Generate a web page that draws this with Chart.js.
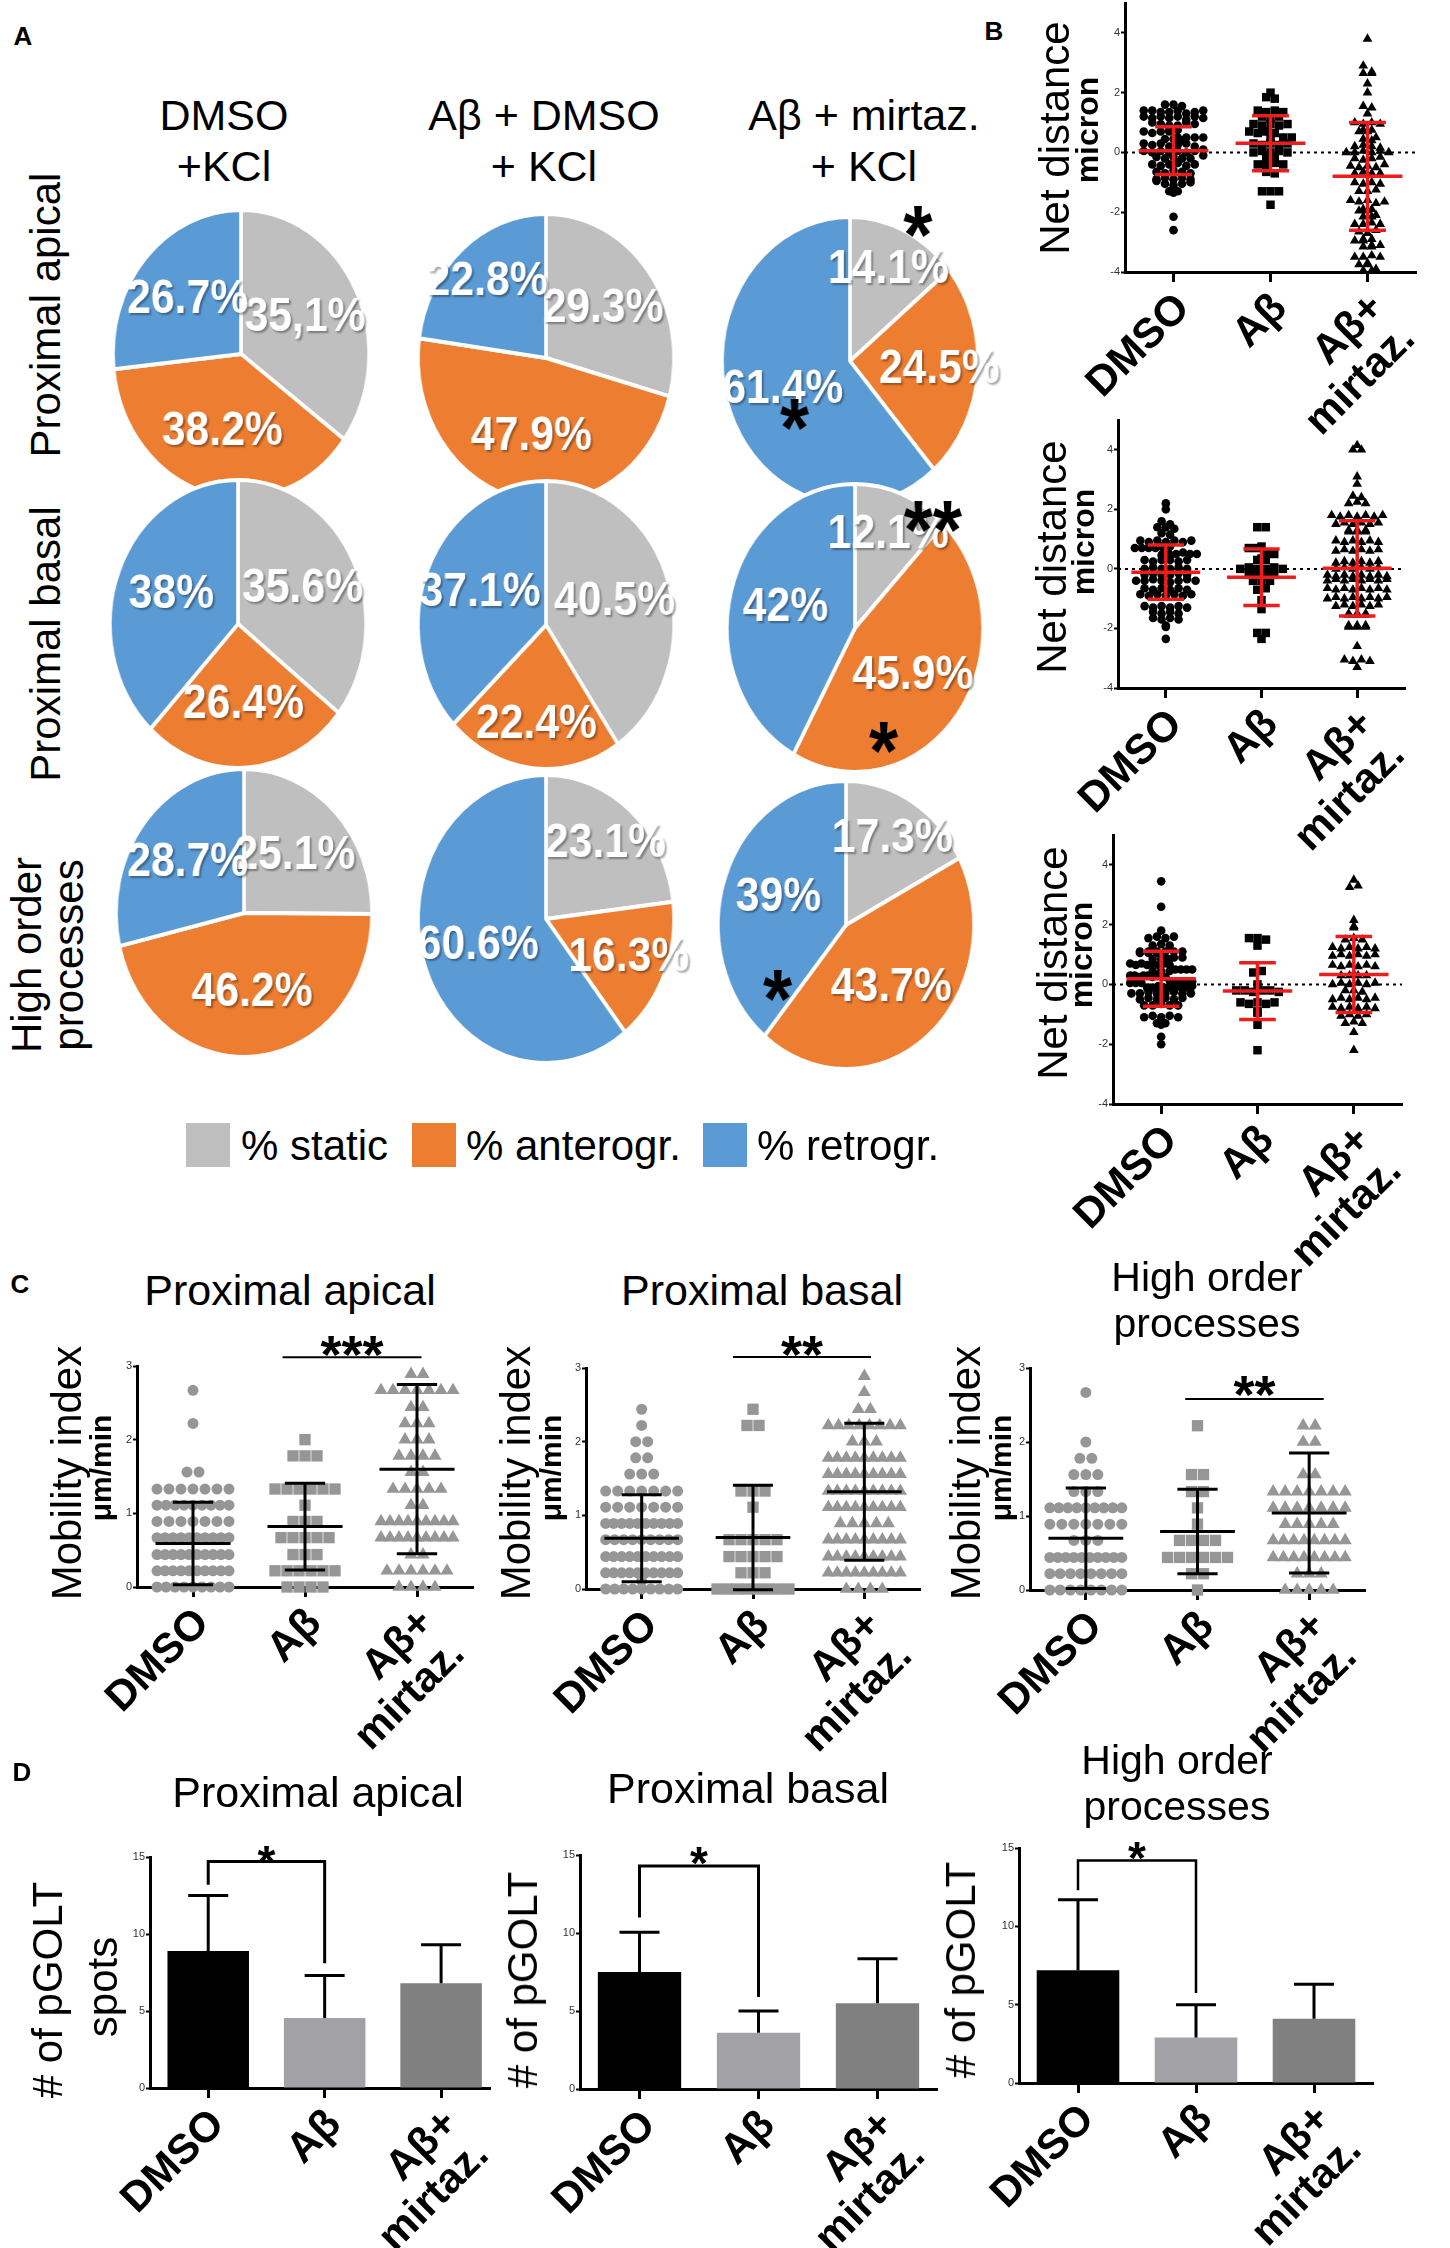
<!DOCTYPE html>
<html>
<head>
<meta charset="utf-8">
<title>pGOLT transport</title>
<script src="https://cdn.jsdelivr.net/npm/chart.js@4.4.1/dist/chart.umd.min.js"></script>
<style>
  html, body { margin: 0; background: #fff; }
  #fig { position: relative; width: 1450px; height: 2248px; overflow: hidden; font-family: "Liberation Sans", Arial, sans-serif; color: #000; }
  #fig canvas { position: absolute; }
  .t { position: absolute; white-space: pre; line-height: 1; text-align: center; transform: translate(-50%, -50%); }
  .t.v { transform: translate(-50%, -50%) rotate(-90deg); }
  .key { position: absolute; width: 44px; height: 44px; }
</style>
</head>
<body>
<div id="fig"></div>
<script>
// ---------- data ----------
const groups = ['DMSO', 'Aβ', ['Aβ+', 'mirtaz.']];

// A: share of spots per movement class, order [static, anterograde, retrograde]
const moveClasses = ['% static', '% anterogr.', '% retrogr.'];
const moveColors = ['#bfbfbf', '#ed7d31', '#5b9bd5'];
const pieColumns = [['DMSO', '+KCl'], ['Aβ + DMSO', '+ KCl'], ['Aβ + mirtaz.', '+ KCl']];
const pieRows = ['Proximal apical', 'Proximal basal', 'High order\nprocesses'];
const pieApical = [[35.1, 38.2, 26.7], [29.3, 47.9, 22.8], [14.1, 24.5, 61.4]];
const pieBasal = [[35.6, 26.4, 38], [40.5, 22.4, 37.1], [12.1, 45.9, 42]];
const pieHigh = [[25.1, 46.2, 28.7], [23.1, 16.3, 60.6], [17.3, 43.7, 39]];

// B: net distance (micron)
const netTicks = [-4, -2, 0, 2, 4];
const netApicalDmso = [1.6, 1.6, 1.55, 1.4, 1.4, 1.35, 1.35, 1.4, 1.3, 1.35, 1.4,
  1.2, 1.15, 1.2, 1.15, 1.2, 1.1, 1.2, 1.15, 1.0, 0.95, 0.9, 0.9, 1.0, 0.95,
  0.75, 0.7, 0.65, 0.7, 0.75, 0.7, 0.5, 0.45, 0.5, 0.45, 0.5, 0.4, 0.5,
  0.3, 0.25, 0.3, 0.2, 0.25, 0.3, 0.2, 0.05, 0.0, 0.05, 0.0, 0.05, 0.1, 0.0, 0.05,
  -0.15, -0.2, -0.15, -0.2, -0.1, -0.2, -0.4, -0.45, -0.4, -0.35, -0.45, -0.4,
  -0.65, -0.7, -0.6, -0.65, -0.7, -0.9, -0.85, -0.9, -0.95, -0.85, -0.9,
  -1.05, -1.1, -1.05, -1.0, -1.3, -1.3, -1.35, -2.15, -2.6];
const netApicalAb = [2.0, 1.85, 1.8, 1.4, 1.35, 1.4, 1.35, 1.2, 1.15, 1.2,
  0.95, 0.9, 0.95, 0.9, 0.95, 0.7, 0.65, 0.7, 0.65, 0.5, 0.45, 0.5,
  0.3, 0.25, 0.3, 0.25, 0.3, 0.0, 0.05, 0.0, 0.05, 0.0, -0.2, -0.15,
  -0.4, -0.4, -0.35, -0.4, -0.65, -0.7, -1.3, -1.3, -1.3, -1.75];
const netApicalMirt = [3.8, 2.9, 2.65, 2.7, 2.65, 2.3, 2.0, 1.55, 1.5, 1.3,
  1.0, 0.95, 1.0, 0.95, 0.75, 0.7, 0.7, 0.75, 0.45, 0.5, 0.4, 0.2, 0.25, 0.2, 0.15,
  0.0, 0.0, 0.05, 0.0, 0.05, 0.0, -0.2, -0.25, -0.2, -0.15, -0.45, -0.5, -0.45, -0.5, -0.4,
  -0.7, -0.65, -0.7, -0.7, -1.0, -1.05, -1.0, -1.05, -1.3, -1.3, -1.25,
  -1.6, -1.65, -1.6, -1.7, -1.65, -1.9, -1.95, -1.9, -1.95, -2.15, -2.1, -2.15,
  -2.4, -2.4, -2.35, -2.4, -2.65, -2.7, -2.6, -2.95, -2.9, -2.95, -2.9,
  -3.15, -3.1, -3.15, -3.1, -3.5, -3.5, -3.45, -3.5, -3.75, -3.7, -3.75, -3.95, -3.95, -3.9];
const netApicalMean = [0.06, 0.31, -0.8];
const netApicalSd = [0.8, 0.92, 1.8];

const netBasalDmso = [2.2, 2.0, 1.6, 1.5, 1.4, 1.4, 1.35, 1.2, 1.15,
  0.95, 0.9, 0.95, 0.9, 0.95, 0.9, 0.95, 0.7, 0.75, 0.7, 0.7, 0.75, 0.7,
  0.5, 0.5, 0.45, 0.5, 0.55, 0.5, 0.45, 0.5, 0.3, 0.25, 0.3, 0.3, 0.25, 0.3,
  0.0, 0.05, 0.0, 0.0, 0.05, 0.0, -0.2, -0.15, -0.2, -0.2, -0.15, -0.2,
  -0.4, -0.4, -0.35, -0.4, -0.45, -0.4, -0.35, -0.4, -0.65, -0.7, -0.65, -0.7, -0.65, -0.7,
  -0.85, -0.9, -0.85, -0.9, -0.85, -0.9, -0.85, -1.25, -1.3, -1.25, -1.3, -1.25, -1.3,
  -1.45, -1.5, -1.45, -1.5, -1.65, -1.7, -1.65, -1.7, -1.95, -1.9, -2.35];
const netBasalAb = [1.4, 1.4, 0.7, 0.75, 0.7, 0.5, 0.5, 0.3, 0.35, 0.3,
  0.0, 0.05, 0.0, 0.0, 0.05, 0.0, -0.2, -0.2, -0.25, -0.2, -0.4, -0.4, -0.4,
  -0.7, -0.65, -1.05, -1.35, -2.15, -2.15, -2.35];
const netBasalMirt = [4.15, 4.0, 4.0, 3.1, 2.85, 2.45, 2.4, 2.2, 2.25, 2.2,
  1.8, 1.75, 1.8, 1.75, 1.8, 1.75, 1.8, 1.5, 1.55, 1.5, 1.55, 1.5, 1.55,
  1.25, 1.3, 1.25, 1.3, 1.25, 1.3, 0.95, 0.9, 0.95, 0.9, 0.95, 0.9,
  0.6, 0.65, 0.6, 0.65, 0.6, 0.65, 0.2, 0.25, 0.2, 0.25, 0.2, 0.25,
  0.0, 0.05, 0.0, 0.05, 0.0, 0.05, -0.2, -0.25, -0.2, -0.25, -0.2, -0.25, -0.2, -0.25,
  -0.4, -0.35, -0.4, -0.35, -0.4, -0.35, -0.4, -0.35, -0.65, -0.7, -0.65, -0.7, -0.65, -0.7, -0.65, -0.7,
  -1.0, -0.95, -1.0, -0.95, -1.0, -0.95, -1.0, -0.95, -1.25, -1.2, -1.25, -1.2, -1.25, -1.2,
  -1.5, -1.55, -1.5, -1.55, -1.5, -1.55, -1.9, -1.95, -1.9, -1.95, -1.9, -1.95,
  -2.6, -3.05, -3.1, -3.05, -3.1, -3.3];
const netBasalMean = [-0.11, -0.28, 0.02];
const netBasalSd = [0.91, 0.95, 1.6];

const netHighDmso = [3.45, 2.6, 1.8, 1.55, 1.6, 1.55, 1.6, 1.3, 1.35, 1.3,
  1.1, 1.1, 1.05, 1.1, 1.1, 1.05, 1.1, 1.1, 1.05, 0.9, 0.85, 0.9, 0.85, 0.9, 0.85,
  0.7, 0.65, 0.7, 0.65, 0.7, 0.65, 0.7, 0.65, 0.5, 0.45, 0.5, 0.45, 0.5, 0.45, 0.5,
  0.3, 0.3, 0.25, 0.3, 0.3, 0.25, 0.3, 0.3, 0.25, 0.1, 0.1, 0.05, 0.1, 0.1, 0.05, 0.1, 0.1, 0.05,
  -0.1, -0.1, -0.05, -0.1, -0.1, -0.05, -0.1, -0.1, -0.05, -0.3, -0.3, -0.25, -0.3, -0.3, -0.25, -0.3, -0.3,
  -0.5, -0.45, -0.5, -0.45, -0.5, -0.45, -0.7, -0.7, -0.65, -0.7, -0.7,
  -1.1, -1.05, -1.1, -1.05, -1.1, -1.3, -1.35, -1.3, -1.75, -2.0];
const netHighAb = [1.55, 1.55, 1.5, 1.3, 0.4, 0.45, 0.0, -0.2, -0.2, -0.25, -0.2, -0.2, -0.25,
  -0.6, -0.65, -0.6, -0.65, -0.6, -0.9, -0.95, -1.35, -2.2];
const netHighMirt = [3.5, 3.25, 3.3, 2.15, 1.9, 1.95, 1.5, 1.55, 1.5,
  1.25, 1.2, 1.25, 1.2, 1.25, 1.2, 0.95, 1.0, 0.95, 1.0, 0.95, 1.0,
  0.65, 0.6, 0.65, 0.6, 0.65, 0.6, 0.3, 0.3, 0.35, 0.3, 0.3, 0.0, 0.05, 0.0, 0.05, 0.0, 0.05,
  -0.2, -0.2, -0.25, -0.5, -0.45, -0.5, -0.45, -0.5, -0.45, -0.75, -0.8, -0.75, -0.8, -0.75, -0.8,
  -1.05, -1.0, -1.05, -1.0, -1.3, -1.25, -1.3, -1.6, -2.2];
const netHighMean = [0.19, -0.22, 0.33];
const netHighSd = [0.92, 0.95, 1.27];

// C: mobility index (µm/min)
const mobTicks = [0, 1, 2, 3];
const mobApicalDmso = [2.67, 2.22, 1.56, 1.56,
  1.33, 1.33, 1.33, 1.33, 1.33, 1.33, 1.33,
  1.11, 1.11, 1.11, 1.11, 1.11, 1.11, 1.11, 1.11, 1.11,
  0.89, 0.89, 0.89, 0.89, 0.89, 0.89, 0.89,
  0.67, 0.67, 0.67, 0.67, 0.67, 0.67, 0.67, 0.67, 0.67, 0.67,
  0.44, 0.44, 0.44, 0.44, 0.44, 0.44, 0.44, 0.44, 0.44, 0.44,
  0.22, 0.22, 0.22, 0.22, 0.22, 0.22, 0.22, 0.22, 0.22, 0.22,
  0, 0, 0, 0, 0, 0, 0, 0, 0];
const mobApicalAb = [2.0, 1.78, 1.78, 1.78,
  1.33, 1.33, 1.33, 1.33, 1.33, 1.33, 1.11, 0.89, 0.89, 0.89,
  0.67, 0.67, 0.67, 0.67, 0.67, 0.44, 0.44, 0.44,
  0.22, 0.22, 0.22, 0.22, 0.22, 0.22, 0, 0, 0, 0];
const mobApicalMirt = [2.89, 2.89, 2.67, 2.67, 2.67, 2.67, 2.67, 2.67, 2.67,
  2.44, 2.44, 2.22, 2.22, 2.22, 2.0, 2.0, 2.0, 1.78, 1.78, 1.78, 1.78, 1.56, 1.56,
  1.33, 1.33, 1.33, 1.33, 1.33, 1.11, 1.11,
  0.89, 0.89, 0.89, 0.89, 0.89, 0.89, 0.89, 0.89, 0.89,
  0.67, 0.67, 0.67, 0.67, 0.67, 0.67, 0.67, 0.67, 0.67, 0.44, 0.44,
  0.22, 0.22, 0.22, 0.22, 0.22, 0.22, 0, 0, 0, 0];
const mobApicalMean = [0.59, 0.82, 1.6];
const mobApicalSd = [0.56, 0.59, 1.15];

const mobBasalDmso = [2.44, 2.22, 2.0, 2.0, 1.78, 1.78, 1.56, 1.56, 1.56,
  1.33, 1.33, 1.33, 1.33, 1.33, 1.33, 1.33, 1.11, 1.11, 1.11, 1.11, 1.11, 1.11, 1.11,
  0.89, 0.89, 0.89, 0.89, 0.89, 0.89, 0.89, 0.89, 0.89, 0.89,
  0.67, 0.67, 0.67, 0.67, 0.67, 0.67, 0.67, 0.67, 0.67,
  0.44, 0.44, 0.44, 0.44, 0.44, 0.44, 0.44, 0.44, 0.44, 0.44,
  0.22, 0.22, 0.22, 0.22, 0.22, 0.22, 0.22, 0.22, 0.22, 0.22, 0.11,
  0, 0, 0, 0, 0, 0, 0, 0, 0];
const mobBasalAb = [2.44, 2.22, 2.22, 1.33, 1.33, 1.33, 1.11,
  0.67, 0.67, 0.67, 0.67, 0.67, 0.44, 0.44, 0.44, 0.44, 0.44, 0.22, 0.22, 0.22,
  0, 0, 0, 0, 0, 0, 0, 0];
const mobBasalMirt = [2.89, 2.67, 2.44, 2.44, 2.22, 2.22, 2.22, 2.22, 2.22, 2.22, 2.22, 2.22,
  2.0, 2.0, 2.0, 1.78, 1.78, 1.78, 1.78, 1.78, 1.78, 1.78, 1.78, 1.78,
  1.56, 1.56, 1.56, 1.56, 1.56, 1.56, 1.56, 1.56, 1.56,
  1.33, 1.33, 1.33, 1.33, 1.33, 1.33, 1.33, 1.33, 1.33,
  1.11, 1.11, 1.11, 1.11, 1.11, 1.11, 1.11, 1.11, 1.11, 0.89, 0.89, 0.89, 0.89, 0.89,
  0.67, 0.67, 0.67, 0.67, 0.67, 0.67, 0.67, 0.67, 0.67,
  0.44, 0.44, 0.44, 0.44, 0.44, 0.44, 0.44, 0.44, 0.44,
  0.22, 0.22, 0.22, 0.22, 0.22, 0.22, 0.22, 0.22, 0.22, 0, 0, 0, 0];
const mobBasalMean = [0.69, 0.7, 1.32];
const mobBasalSd = [0.59, 0.71, 0.93];

const mobHighDmso = [2.67, 2.0, 1.78, 1.78, 1.56, 1.56, 1.56, 1.33, 1.33, 1.33,
  1.11, 1.11, 1.11, 1.11, 1.11, 1.11, 1.11, 1.11, 1.11,
  0.89, 0.89, 0.89, 0.89, 0.89, 0.89, 0.89, 0.67, 0.67, 0.67,
  0.44, 0.44, 0.44, 0.44, 0.44, 0.44, 0.44, 0.44, 0.44, 0.44,
  0.22, 0.22, 0.22, 0.22, 0.22, 0.22, 0.22, 0.22, 0, 0, 0, 0, 0, 0, 0, 0];
const mobHighAb = [2.22, 1.56, 1.56, 1.33, 1.33, 1.11, 0.89, 0.67, 0.67, 0.67, 0.67,
  0.44, 0.44, 0.44, 0.44, 0.44, 0.44, 0.22, 0.22, 0];
const mobHighMirt = [2.22, 2.22, 2.0, 2.0, 1.56, 1.56,
  1.33, 1.33, 1.33, 1.33, 1.33, 1.33, 1.33, 1.11, 1.11, 1.11, 1.11, 1.11, 1.11, 1.11,
  0.89, 0.89, 0.89, 0.89, 0.89, 0.67, 0.67, 0.67, 0.67, 0.67, 0.67, 0.67, 0.67,
  0.44, 0.44, 0.44, 0.44, 0.44, 0.44, 0.44, 0.44, 0.22, 0.22, 0.22, 0, 0, 0, 0, 0];
const mobHighMean = [0.7, 0.79, 1.04];
const mobHighSd = [0.68, 0.57, 0.81];

// D: number of pGOLT spots, mean and SD
const spotTicks = [0, 5, 10, 15];
const spotsApical = [8.9, 4.55, 6.8];
const spotsApicalSd = [3.6, 2.75, 2.5];
const spotsBasal = [7.5, 3.6, 5.5];
const spotsBasalSd = [2.55, 1.4, 2.85];
const spotsHigh = [7.2, 2.9, 4.1];
const spotsHighSd = [4.5, 2.1, 2.2];
const barColors = ['#000000', '#a2a2a6', '#808080'];

// ---------- helpers ----------
const FONT = '"Liberation Sans", Arial, sans-serif';
Chart.defaults.font.family = FONT;
Chart.defaults.color = '#000';
const fig = document.getElementById('fig');

function txt(str, x, y, size, opt = {}) {
  const d = document.createElement('div');
  d.className = 't' + (opt.rot ? ' v' : '');
  d.style.left = x + 'px';
  d.style.top = y + 'px';
  d.style.fontSize = size + 'px';
  if (opt.bold) d.style.fontWeight = 'bold';
  d.textContent = str;
  fig.appendChild(d);
}

// beeswarm: points sharing a row are spread sideways around the group position
function swarm(values, idx, rowStep, gapPx, maxPx, pxPerUnit) {
  const rows = new Map();
  values.forEach(v => {
    const k = Math.round(v / rowStep);
    if (!rows.has(k)) rows.set(k, []);
    rows.get(k).push(v);
  });
  const pts = [];
  rows.forEach(list => {
    const n = list.length;
    const gap = n > 1 ? Math.min(gapPx, maxPx / (n - 1)) : 0;
    list.forEach((v, j) => pts.push({x: idx + (j - (n - 1) / 2) * gap / pxPerUnit, y: v}));
  });
  return pts;
}

// ---------- plugins ----------
const pieText = {
  id: 'pieText',
  afterDatasetsDraw(chart, args, o) {
    const ctx = chart.ctx;
    const arcs = chart.getDatasetMeta(0).data;
    const vals = chart.data.datasets[0].data;
    ctx.save();
    ctx.textAlign = 'center';
    ctx.textBaseline = 'middle';
    ctx.font = 'bold 48px ' + FONT;
    arcs.forEach((arc, i) => {
      const mid = (arc.startAngle + arc.endAngle) / 2;
      const f = vals[i] < 25 ? 0.7 : 0.56;
      const x = arc.x + Math.cos(mid) * arc.outerRadius * f;
      const y = arc.y + Math.sin(mid) * arc.outerRadius * f;
      ctx.shadowColor = 'rgba(0,0,0,0.35)';
      ctx.shadowBlur = 2;
      ctx.shadowOffsetX = 2;
      ctx.shadowOffsetY = 2;
      ctx.fillStyle = '#fff';
      ctx.fillText(o.labels[i], x, y);
    });
    ctx.shadowColor = 'transparent';
    ctx.fillStyle = '#000';
    ctx.textBaseline = 'alphabetic';
    const S = 84;
    ctx.font = 'bold ' + S + 'px ' + FONT;
    (o.marks || []).forEach(m => {
      const a = (m.a - 90) * Math.PI / 180;
      const r = arcs[0].outerRadius * m.r;
      ctx.fillText(m.t, arcs[0].x + Math.cos(a) * r, arcs[0].y + Math.sin(a) * r + 0.56 * S);
    });
    ctx.restore();
  }
};

const zeroLine = {
  id: 'zeroLine',
  beforeDatasetsDraw(chart, args, o) {
    if (!o.on) return;
    const {ctx, chartArea} = chart;
    const y = chart.scales.y.getPixelForValue(0);
    ctx.save();
    ctx.strokeStyle = '#000';
    ctx.lineWidth = 2;
    ctx.setLineDash([3, 4]);
    ctx.beginPath();
    ctx.moveTo(chartArea.left, y);
    ctx.lineTo(chartArea.right, y);
    ctx.stroke();
    ctx.restore();
  }
};

const meanSd = {
  id: 'meanSd',
  afterDatasetsDraw(chart, args, o) {
    if (!o.mean) return;
    const {ctx} = chart;
    const X = v => chart.scales.x.getPixelForValue(v);
    const Y = v => chart.scales.y.getPixelForValue(v);
    ctx.save();
    ctx.strokeStyle = o.color;
    ctx.lineWidth = o.width;
    const seg = (x0, y0, x1, y1) => {
      ctx.beginPath();
      ctx.moveTo(X(x0), Y(y0));
      ctx.lineTo(X(x1), Y(y1));
      ctx.stroke();
    };
    o.mean.forEach((m, i) => {
      const s = o.sd[i];
      seg(i, m - s, i, m + s);
      seg(i - o.half, m, i + o.half, m);
      seg(i - o.cap, m + s, i + o.cap, m + s);
      seg(i - o.cap, m - s, i + o.cap, m - s);
    });
    ctx.restore();
  }
};

const errBars = {
  id: 'errBars',
  afterDatasetsDraw(chart, args, o) {
    if (!o.sd) return;
    const {ctx} = chart;
    const X = v => chart.scales.x.getPixelForValue(v);
    const Y = v => chart.scales.y.getPixelForValue(v);
    ctx.save();
    ctx.strokeStyle = '#000';
    ctx.lineWidth = 3;
    o.mean.forEach((m, i) => {
      const x = X(i), top = Y(m + o.sd[i]);
      ctx.beginPath();
      ctx.moveTo(x, Y(m));
      ctx.lineTo(x, top);
      ctx.moveTo(x - 20, top);
      ctx.lineTo(x + 20, top);
      ctx.stroke();
    });
    ctx.restore();
  }
};

const sigMarks = {
  id: 'sigMarks',
  afterDraw(chart, args, o) {
    if (!o.text) return;
    const {ctx} = chart;
    const X = v => chart.scales.x.getPixelForValue(v);
    const Y = v => chart.scales.y.getPixelForValue(v);
    ctx.save();
    ctx.strokeStyle = '#000';
    ctx.lineWidth = o.width;
    ctx.beginPath();
    if (o.legs) {
      ctx.moveTo(X(o.x0), Y(o.legs[0]));
      ctx.lineTo(X(o.x0), Y(o.y));
      ctx.lineTo(X(o.x1), Y(o.y));
      ctx.lineTo(X(o.x1), Y(o.legs[1]));
    } else {
      ctx.moveTo(X(o.x0), Y(o.y));
      ctx.lineTo(X(o.x1), Y(o.y));
    }
    ctx.stroke();
    ctx.fillStyle = '#000';
    ctx.textAlign = 'center';
    ctx.textBaseline = 'alphabetic';
    ctx.font = 'bold ' + o.size + 'px ' + FONT;
    ctx.fillText(o.text, X((o.x0 + o.x1) / 2), Y(o.textY) + 0.56 * o.size);
    ctx.restore();
  }
};

// ---------- chart builders ----------
function pie(values, labels, cx, cy, marks) {
  const S = 380, sx = 0.887;
  const cv = document.createElement('canvas');
  cv.width = S;
  cv.height = S;
  Object.assign(cv.style, {width: S * sx + 'px', height: S + 'px', left: (cx - S * sx / 2) + 'px', top: (cy - S / 2) + 'px'});
  fig.appendChild(cv);
  new Chart(cv, {
    type: 'pie',
    data: {labels: moveClasses, datasets: [{data: values, backgroundColor: moveColors, borderColor: '#fff', borderWidth: 4}]},
    options: {
      responsive: false, animation: false, events: [],
      layout: {padding: 44},
      plugins: {legend: {display: false}, tooltip: {enabled: false}, pieText: {labels, marks}}
    },
    plugins: [pieText]
  });
}

function axesChart(o) {
  const padL = 110, yW = 26, padT = 80, padR = 70, xH = 180;
  const {l, t, r, b} = o.area;
  const w = padL + yW + (r - l) + padR, h = padT + (b - t) + xH;
  const cv = document.createElement('canvas');
  cv.width = w;
  cv.height = h;
  Object.assign(cv.style, {left: (l - padL - yW) + 'px', top: (t - padT) + 'px', width: w + 'px', height: h + 'px'});
  fig.appendChild(cv);
  new Chart(cv, {
    type: o.type,
    data: {datasets: o.datasets},
    options: {
      responsive: false, animation: false, events: [],
      layout: {padding: {left: padL, top: padT, right: padR, bottom: 0}},
      plugins: Object.assign({legend: {display: false}, tooltip: {enabled: false}}, o.plugins),
      scales: {
        x: {
          type: 'linear', min: -0.5, max: o.xMax || 2.5, offset: false,
          afterBuildTicks: s => { s.ticks = [0, 1, 2].map(v => ({value: v})); },
          afterFit: s => { s.height = xH; },
          grid: {drawOnChartArea: false, drawTicks: true, tickLength: 10, tickWidth: 3, tickColor: '#000', offset: false},
          border: {display: true, width: 3, color: '#000'},
          ticks: {autoSkip: false, minRotation: 45, maxRotation: 45, padding: 4, labelOffset: 10, color: '#000',
            font: {size: 42, weight: 'bold', lineHeight: 1.05}, callback: v => groups[v]}
        },
        y: {
          min: o.yMin, max: o.yMax,
          afterBuildTicks: s => { s.ticks = o.yTicks.map(v => ({value: v})); },
          afterFit: s => { s.width = yW; },
          grid: {drawOnChartArea: false, drawTicks: true, tickLength: 4, tickWidth: 2, tickColor: '#000'},
          border: {display: true, width: 3, color: '#000'},
          ticks: {padding: 1, color: '#333', font: {size: 11}}
        }
      }
    },
    plugins: [zeroLine, meanSd, errBars, sigMarks]
  });
}

function dotChart(o) {
  const ppu = (o.area.r - o.area.l) / 3;
  const datasets = o.values.map((vals, i) => ({
    type: 'scatter',
    data: swarm(vals, i, o.rowStep, o.gap, o.maxW, ppu),
    pointStyle: o.shapes[i], pointRadius: o.radii[i],
    backgroundColor: o.color, borderWidth: 0, clip: false
  }));
  axesChart({
    type: 'scatter', area: o.area, yMin: o.yMin, yMax: o.yMax, yTicks: o.yTicks, datasets,
    plugins: {
      zeroLine: {on: !!o.zero},
      meanSd: {mean: o.mean, sd: o.sd, color: o.statColor, width: o.statWidth, half: o.half, cap: o.cap},
      sigMarks: o.sig || {}
    }
  });
}

function barChart(o) {
  axesChart({
    type: 'bar', area: o.area, xMax: o.xMax, yMin: 0, yMax: 15, yTicks: spotTicks,
    datasets: [{
      data: o.mean.map((v, i) => ({x: i, y: v})),
      backgroundColor: barColors, borderWidth: 0,
      categoryPercentage: 1, barPercentage: 0.7
    }],
    plugins: {errBars: {mean: o.mean, sd: o.sd}, sigMarks: o.sig}
  });
}

// ---------- panel A ----------
txt('A', 23, 36, 26, {bold: 1});
const pieCentres = [[[241, 354], [546, 358], [850, 361]], [[238, 624], [546, 625], [855, 628]], [[244, 913], [546, 919], [846, 925]]];
const colX = [224, 544, 864];
pieColumns.forEach((c, i) => { txt(c[0], colX[i], 115, 43); txt(c[1], colX[i], 166, 43); });
txt(pieRows[0], 46, 315, 42, {rot: 1});
txt(pieRows[1], 46, 644, 42, {rot: 1});
txt(pieRows[2], 48, 955, 42, {rot: 1});
const pieMarks = {
  '0,2': [{a: 28, r: 1.13, t: '*'}, {a: 232, r: 0.55, t: '*'}],
  '1,2': [{a: 37, r: 1.01, t: '**'}, {a: 163, r: 0.76, t: '*'}],
  '2,2': [{a: 234, r: 0.66, t: '*'}]
};
[pieApical, pieBasal, pieHigh].forEach((row, ri) => {
  row.forEach((vals, ci) => {
    // the source figure writes the first value with a decimal comma
    const labels = vals.map((v, k) => (ri === 0 && ci === 0 && k === 0) ? String(v).replace('.', ',') + '%' : v + '%');
    const [cx, cy] = pieCentres[ri][ci];
    pie(vals, labels, cx, cy, pieMarks[ri + ',' + ci]);
  });
});
const keyX = [186, 412, 703], keyTextX = [241, 466, 757];
moveClasses.forEach((name, i) => {
  const k = document.createElement('div');
  k.className = 'key';
  Object.assign(k.style, {left: keyX[i] + 'px', top: '1123px', background: moveColors[i]});
  fig.appendChild(k);
  const d = document.createElement('div');
  d.className = 't';
  Object.assign(d.style, {left: keyTextX[i] + 'px', top: '1146px', fontSize: '42px', transform: 'translate(0,-50%)'});
  d.textContent = name;
  fig.appendChild(d);
});

// ---------- panel B ----------
txt('B', 994, 31, 26, {bold: 1});
const netStyle = {shapes: ['circle', 'rect', 'triangle'], radii: [4.3, 6.0, 5.6], color: '#000', rowStep: 0.2, gap: 8.5, maxW: 62,
  yMin: -4, yMax: 5, yTicks: netTicks, zero: true, statColor: '#ee1c1c', statWidth: 3.5, half: 0.36, cap: 0.19};
dotChart(Object.assign({area: {l: 1125, t: 3, r: 1416, b: 272}, values: [netApicalDmso, netApicalAb, netApicalMirt],
  mean: netApicalMean, sd: netApicalSd}, netStyle));
dotChart(Object.assign({area: {l: 1118, t: 420, r: 1405, b: 688}, values: [netBasalDmso, netBasalAb, netBasalMirt],
  mean: netBasalMean, sd: netBasalSd}, netStyle));
dotChart(Object.assign({area: {l: 1113, t: 835, r: 1402, b: 1104}, values: [netHighDmso, netHighAb, netHighMirt],
  mean: netHighMean, sd: netHighSd}, netStyle));
[[1055, 1087, 138, 130], [1052, 1083, 557, 542], [1053, 1081, 963, 955]].forEach(p => {
  txt('Net distance', p[0], p[2], 42, {rot: 1});
  txt('micron', p[1], p[3], 32, {rot: 1, bold: 1});
});

// ---------- panel C ----------
txt('C', 20, 1284, 26, {bold: 1});
txt('Proximal apical', 290, 1290, 43);
txt('Proximal basal', 762, 1290, 43);
txt('High order', 1207, 1277, 41);
txt('processes', 1207, 1323, 41);
const mobStyle = {shapes: ['circle', 'rect', 'triangle'], radii: [5.5, 8.0, 7.6], color: '#969696', rowStep: 0.1, gap: 12, maxW: 72,
  yMin: 0, yMax: 3, yTicks: mobTicks, statColor: '#000', statWidth: 3, half: 0.335, cap: 0.18};
dotChart(Object.assign({area: {l: 137, t: 1366, r: 473, b: 1587}, values: [mobApicalDmso, mobApicalAb, mobApicalMirt],
  mean: mobApicalMean, sd: mobApicalSd, sig: {text: '***', x0: 0.8, x1: 2.04, y: 3.12, textY: 3.31, size: 54, width: 2}}, mobStyle));
dotChart(Object.assign({area: {l: 586, t: 1368, r: 920, b: 1589}, values: [mobBasalDmso, mobBasalAb, mobBasalMirt],
  mean: mobBasalMean, sd: mobBasalSd, sig: {text: '**', x0: 0.82, x1: 2.06, y: 3.15, textY: 3.34, size: 54, width: 2}}, mobStyle));
dotChart(Object.assign({area: {l: 1030, t: 1368, r: 1365, b: 1590}, values: [mobHighDmso, mobHighAb, mobHighMirt],
  mean: mobHighMean, sd: mobHighSd, sig: {text: '**', x0: 0.89, x1: 2.13, y: 2.58, textY: 2.8, size: 54, width: 2}}, mobStyle));
[[67, 101], [516, 551], [966, 1001]].forEach(p => {
  txt('Mobility index', p[0], 1473, 42, {rot: 1});
  txt('μm/min', p[1], 1468, 30, {rot: 1, bold: 1});
});

// ---------- panel D ----------
txt('D', 22, 1772, 26, {bold: 1});
txt('Proximal apical', 318, 1792, 43);
txt('Proximal basal', 748, 1788, 43);
txt('High order', 1177, 1760, 41);
txt('processes', 1177, 1806, 41);
barChart({area: {l: 150, t: 1857, r: 490, b: 2088}, xMax: 2.42, mean: spotsApical, sd: spotsApicalSd,
  sig: {text: '*', x0: 0, x1: 1, y: 14.7, legs: [13.2, 8.1], textY: 15.3, size: 46, width: 3}});
barChart({area: {l: 580, t: 1855, r: 937, b: 2089}, mean: spotsBasal, sd: spotsBasalSd,
  sig: {text: '*', x0: 0, x1: 1, y: 14.3, legs: [11.0, 5.9], textY: 15.1, size: 46, width: 3}});
barChart({area: {l: 1019, t: 1848, r: 1373, b: 2083}, mean: spotsHigh, sd: spotsHighSd,
  sig: {text: '*', x0: 0, x1: 1, y: 14.2, legs: [12.3, 5.75], textY: 15.0, size: 46, width: 2.5}});
txt('# of pGOLT', 48, 1990, 42, {rot: 1});
txt('spots', 103, 1987, 42, {rot: 1});
txt('# of pGOLT', 523, 1980, 42, {rot: 1});
txt('# of pGOLT', 961, 1970, 42, {rot: 1});
</script>
</body>
</html>
